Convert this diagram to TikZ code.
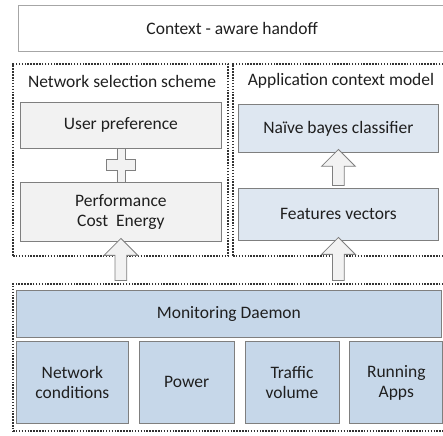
\documentclass[tikz,border=0pt]{standalone}
\usepackage{fontspec}
\setmainfont{Carlito}
\usepackage{xcolor}
\usetikzlibrary{positioning,shapes.arrows,calc}
\definecolor{edgegray}{HTML}{7F7F7F}
\definecolor{topgray}{HTML}{A6A6A6}
\definecolor{boxgray}{HTML}{F2F2F2}
\definecolor{paleblue}{HTML}{DEE7F1}
\definecolor{midblue}{HTML}{C6D7E9}
\definecolor{dotgray}{HTML}{333333}

\begin{document}
\begin{tikzpicture}[
    x=1pt,y=-1pt,
    node distance=10pt,
    txt/.style={font=\fontsize{17.5}{20}\selectfont,text=black!88,align=center},
    headbox/.style={txt,draw=topgray,line width=1.3pt,fill=white,anchor=north west,minimum width=427pt,minimum height=46pt},
    area/.style={draw=dotgray,line width=2pt,dash pattern=on 1.5pt off 1.4pt,anchor=north west,inner sep=0pt},
    graybox/.style={txt,draw=edgegray,line width=0.8pt,fill=boxgray,anchor=north west,minimum width=201pt},
    bluebox/.style={txt,draw=edgegray,line width=0.8pt,fill=paleblue,anchor=north west,minimum width=200pt},
    srcbox/.style={txt,draw=edgegray,line width=0.8pt,fill=midblue,minimum height=82pt},
    uparrow/.style={single arrow,shape border rotate=90,draw=edgegray,line width=0.8pt,fill=boxgray,
        minimum width=33pt,single arrow head extend=11pt,inner sep=5.5pt},
    plusmark/.style={draw=edgegray,line width=0.8pt,fill=boxgray}
]
    \useasboundingbox (0,0) rectangle (443,435);

    \node[headbox] (handoff) at (18,5) {Context - aware handoff};

    % dotted areas
    \node[area,minimum width=215pt,minimum height=192pt] (netarea) at (12,63) {};
    \node[area,minimum width=215pt,minimum height=192pt] (apparea) at (232,63) {};
    \node[area,minimum width=436pt,minimum height=147pt] (monarea) at (12,283) {};

    \node[txt] (nettitle) at (122,81) {Network selection scheme};
    \node[txt] (apptitle) at (341,81) {Application context model};

    % network selection scheme
    \node[graybox,minimum height=46pt] (userpref) at (20,102) {User preference};
    \node[graybox,minimum height=59pt] (perf) at (20,182) {Performance\\Cost~~Energy};
    \coordinate (plusc) at ($(userpref.south)!0.5!(perf.north)$);
    \draw[plusmark] (plusc) +(-4,-17) -- +(4,-17) -- +(4,-5.5) -- +(14.5,-5.5) -- +(14.5,5.5)
        -- +(4,5.5) -- +(4,17) -- +(-4,17) -- +(-4,5.5) -- +(-14.5,5.5) -- +(-14.5,-5.5)
        -- +(-4,-5.5) -- cycle;

    % application context model
    \node[bluebox,minimum height=48pt] (bayes) at (238,104) {Na\"ive bayes classifier};
    \node[bluebox,minimum height=52pt] (features) at (238,188) {Features vectors};
    \node[uparrow,minimum height=36pt] (featup) at ($(features.north)!0.5!(bayes.south)$) {};

    % monitoring
    \node[srcbox,anchor=north west,minimum width=425pt,minimum height=47pt] (daemon) at (16,290) {Monitoring Daemon};
    \node[srcbox,anchor=north west,minimum width=112pt] (netcond) at (16,341) {Network\\conditions};
    \node[srcbox,minimum width=95pt,right=of netcond] (power) {Power};
    \node[srcbox,minimum width=94pt,right=of power] (traffic) {Traffic\\volume};
    \node[srcbox,minimum width=93pt,right=of traffic] (apps) {Running\\Apps};

    \node[uparrow,minimum height=42pt] (netup) at ($(perf.south)!0.5!(perf.south|-monarea.north)$) {};
    \node[uparrow,minimum height=43pt] (appup) at ($(features.south)!0.5!(features.south|-monarea.north)$) {};
\end{tikzpicture}
\end{document}
